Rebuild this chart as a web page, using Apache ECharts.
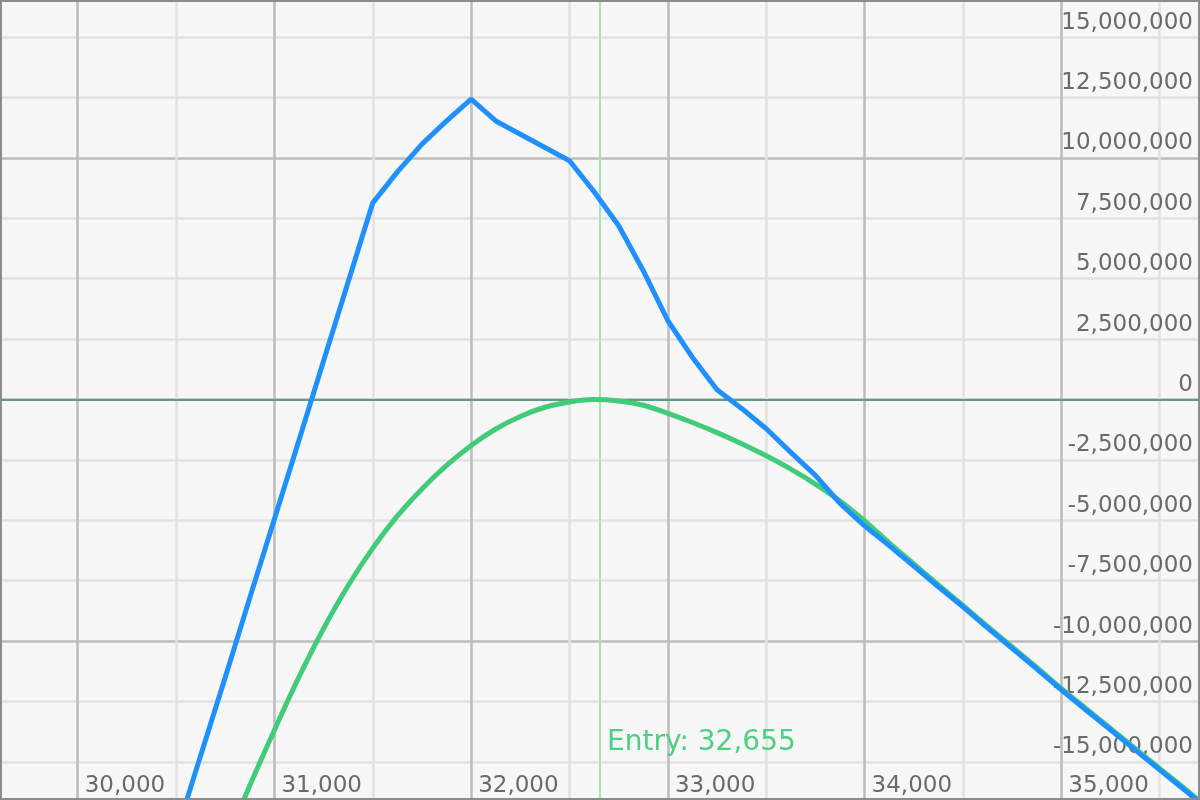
<!DOCTYPE html>
<html>
<head>
<meta charset="utf-8">
<script src="https://cdn.jsdelivr.net/npm/echarts@6/dist/echarts.min.js"></script>
<style>
html,body{margin:0;padding:0;background:#f7f7f7;}
#chart{width:1200px;height:800px;}
</style>
</head>
<body>
<div id="chart"></div>
<script>
const entryPrice = 32655;

const prices = [30500,30625,30750,30875,31000,31125,31250,31375,31500,31625,31750,31875,
  32000,32125,32250,32375,32500,32625,32750,32875,33000,33125,33250,33375,33500,33625,
  33750,33875,34000,34125,34250,34375,34500,34625,34750,34875,35000,35125,35250,35375,
  35500,35625,35750];

const bluePnl = [-18000000,-14730000,-11500000,-8200000,-4950000,-1680000,1600000,4870000,
  8140000,9420000,10570000,11530000,12430000,11530000,10980000,10430000,9880000,8600000,
  7190000,5330000,3260000,1740000,400000,-370000,-1210000,-2190000,-3140000,-4300000,
  -5230000,-6050000,-6900000,-7750000,-8580000,-9450000,-10300000,-11150000,-12020000,
  -12850000,-13670000,-14500000,-15330000,-16150000,-17000000];

const greenPnl = [-23780000,-21030000,-18430000,-15980000,-13680000,-11480000,-9480000,
  -7700000,-6150000,-4820000,-3700000,-2730000,-1900000,-1220000,-700000,-320000,-100000,
  0,-60000,-240000,-570000,-950000,-1370000,-1830000,-2330000,-2880000,-3500000,
  -4200000,-5020000,-5930000,-6800000,-7670000,-8520000,-9390000,-10240000,-11090000,
  -11960000,-12790000,-13610000,-14440000,-15270000,-16090000,-16940000];

const entryLabelValue = -14220000;

const FONT = 'DejaVu Sans';
const fmt = v => Math.round(v).toLocaleString('en-US');

const chart = echarts.init(document.getElementById('chart'), null, {renderer: 'canvas'});
chart.setOption({
  backgroundColor: '#f7f7f7',
  animation: false,
  grid: {left: -119.0, right: 0, top: -83.7, bottom: -82.7, containLabel: false, outerBoundsMode: 'none'},
  xAxis: {
    type: 'value', min: 29000, max: 35705, interval: 500,
    position: 'bottom', offset: -82.7,
    axisLine: {show: false}, axisTick: {show: false},
    splitLine: {show: true, lineStyle: {color: ['#bdbdbd', '#e2e2e2'], width: 2.5}},
    axisLabel: {
      inside: true, margin: 2, align: 'left', padding: [0, 0, 0, 7],
      color: '#6a6a6a', fontSize: 23, fontFamily: FONT,
      formatter: v => (v % 1000 === 0 ? fmt(v) : '')
    }
  },
  yAxis: {
    type: 'value', min: -20000000, max: 20000000, interval: 2500000,
    position: 'right',
    axisLine: {show: false}, axisTick: {show: false},
    splitLine: {show: true, lineStyle: {color: ['#bdbdbd', '#e2e2e2', '#e2e2e2', '#e2e2e2'], width: 2.5}},
    axisLabel: {
      inside: true, margin: 7, align: 'right', verticalAlign: 'bottom', padding: [0, 0, 3, 0],
      color: '#6a6a6a', fontSize: 23, fontFamily: FONT,
      formatter: v => (Math.abs(v) <= 16000000 ? fmt(v) : '')
    }
  },
  graphic: [{
    type: 'rect', z: 100, silent: true,
    shape: {x: 0, y: 0, width: 1200, height: 800},
    style: {fill: 'none', stroke: '#8c8c8c', lineWidth: 4}
  }],
  series: [
    {
      type: 'line', name: 'green', z: 2,
      data: prices.map((p, i) => [p, greenPnl[i]]),
      showSymbol: false, smooth: 0.35,
      lineStyle: {color: '#42cc7a', width: 5},
      markLine: {
        silent: true, symbol: 'none', z: 1, animation: false,
        label: {show: false},
        data: [
          {yAxis: 0, lineStyle: {color: '#5f9d80', width: 2, type: 'solid'}},
          {xAxis: entryPrice, lineStyle: {color: '#a3e4bb', width: 2, type: 'solid'}}
        ]
      },
      markPoint: {
        silent: true, symbol: 'circle', symbolSize: 0,
        label: {
          show: true, position: 'right', distance: 7,
          color: '#4dcf86', fontSize: 28, fontFamily: FONT,
          formatter: 'Entry: ' + fmt(entryPrice)
        },
        data: [{coord: [entryPrice, entryLabelValue]}]
      }
    },
    {
      type: 'line', name: 'blue', z: 3,
      data: prices.map((p, i) => [p, bluePnl[i]]),
      showSymbol: false, smooth: false,
      lineStyle: {color: '#1e90ff', width: 5}
    }
  ]
});
</script>
</body>
</html>
